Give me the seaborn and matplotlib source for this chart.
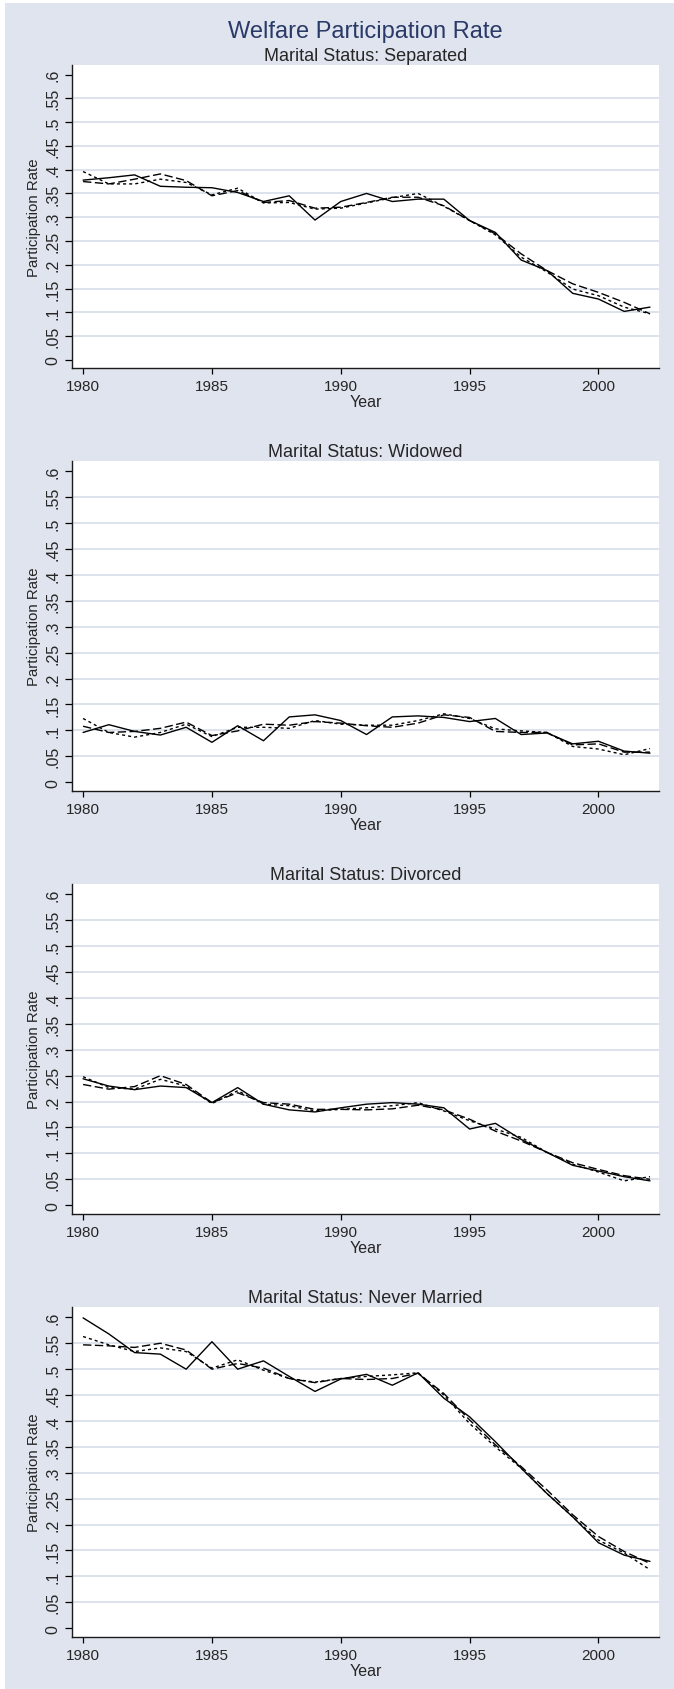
import matplotlib
matplotlib.use("Agg")
import matplotlib.pyplot as plt
import seaborn as sns
import pandas as pd
from matplotlib.patches import Rectangle

# ---- data -------------------------------------------------------------
YEARS = [1980, 1981, 1982, 1983, 1984, 1985, 1986, 1987, 1988, 1989, 1990,
         1991, 1992, 1993, 1994, 1995, 1996, 1997, 1998, 1999, 2000, 2001, 2002]

SEP_ACTUAL = [0.378, 0.383, 0.389, 0.365, 0.363, 0.362, 0.352, 0.333, 0.345, 0.294, 0.333,
              0.350, 0.333, 0.338, 0.338, 0.293, 0.268, 0.210, 0.188, 0.140, 0.128, 0.102, 0.111]
SEP_FIT_A = [0.375, 0.370, 0.380, 0.391, 0.377, 0.345, 0.356, 0.331, 0.335, 0.319, 0.321,
             0.331, 0.342, 0.342, 0.324, 0.293, 0.265, 0.223, 0.188, 0.160, 0.142, 0.121, 0.097]
SEP_FIT_B = [0.396, 0.370, 0.370, 0.380, 0.373, 0.347, 0.361, 0.330, 0.331, 0.317, 0.319,
             0.330, 0.341, 0.350, 0.323, 0.293, 0.263, 0.216, 0.185, 0.149, 0.135, 0.111, 0.097]

WID_ACTUAL = [0.096, 0.111, 0.098, 0.091, 0.106, 0.077, 0.109, 0.080, 0.126, 0.130, 0.119,
              0.092, 0.126, 0.128, 0.125, 0.117, 0.123, 0.092, 0.095, 0.074, 0.079, 0.060, 0.056]
WID_FIT_A = [0.108, 0.096, 0.098, 0.104, 0.116, 0.090, 0.099, 0.112, 0.110, 0.117, 0.114,
             0.109, 0.106, 0.114, 0.130, 0.125, 0.098, 0.096, 0.096, 0.072, 0.074, 0.058, 0.058]
WID_FIT_B = [0.123, 0.096, 0.087, 0.096, 0.112, 0.088, 0.106, 0.106, 0.104, 0.119, 0.112,
             0.110, 0.110, 0.119, 0.132, 0.123, 0.103, 0.099, 0.096, 0.069, 0.064, 0.053, 0.065]

DIV_ACTUAL = [0.244, 0.230, 0.223, 0.230, 0.227, 0.198, 0.227, 0.195, 0.184, 0.180, 0.188,
              0.195, 0.198, 0.195, 0.188, 0.147, 0.158, 0.127, 0.102, 0.077, 0.066, 0.055, 0.047]
DIV_FIT_A = [0.233, 0.224, 0.229, 0.250, 0.233, 0.198, 0.217, 0.198, 0.195, 0.185, 0.185,
             0.184, 0.186, 0.193, 0.184, 0.166, 0.143, 0.124, 0.102, 0.082, 0.069, 0.057, 0.050]
DIV_FIT_B = [0.248, 0.227, 0.224, 0.243, 0.230, 0.196, 0.221, 0.195, 0.192, 0.182, 0.185,
             0.188, 0.192, 0.198, 0.182, 0.163, 0.147, 0.131, 0.102, 0.079, 0.064, 0.047, 0.055]

NM_ACTUAL = [0.599, 0.568, 0.532, 0.529, 0.500, 0.553, 0.500, 0.516, 0.486, 0.457, 0.481,
             0.490, 0.469, 0.493, 0.444, 0.408, 0.360, 0.309, 0.260, 0.215, 0.165, 0.141, 0.129]
NM_FIT_A = [0.547, 0.545, 0.542, 0.550, 0.537, 0.500, 0.511, 0.502, 0.482, 0.474, 0.482,
            0.480, 0.482, 0.492, 0.453, 0.402, 0.354, 0.312, 0.267, 0.219, 0.177, 0.148, 0.125]
NM_FIT_B = [0.563, 0.547, 0.534, 0.541, 0.534, 0.502, 0.518, 0.498, 0.482, 0.475, 0.482,
            0.486, 0.489, 0.493, 0.450, 0.395, 0.350, 0.309, 0.260, 0.215, 0.170, 0.145, 0.113]

PANEL_TITLES = ["Marital Status: Separated", "Marital Status: Widowed",
                "Marital Status: Divorced", "Marital Status: Never Married"]
PANEL_SERIES = [(SEP_ACTUAL, SEP_FIT_A, SEP_FIT_B),
                (WID_ACTUAL, WID_FIT_A, WID_FIT_B),
                (DIV_ACTUAL, DIV_FIT_A, DIV_FIT_B),
                (NM_ACTUAL, NM_FIT_A, NM_FIT_B)]
SERIES_NAMES = ["Actual", "Model A", "Model B"]

Y_TICKS = [0, 0.05, 0.1, 0.15, 0.2, 0.25, 0.3, 0.35, 0.4, 0.45, 0.5, 0.55, 0.6]
Y_TICK_LABELS = ["0", ".05", ".1", ".15", ".2", ".25", ".3", ".35", ".4", ".45", ".5", ".55", ".6"]
X_TICKS = [1980, 1985, 1990, 1995, 2000]

# ---- style ------------------------------------------------------------
sns.set_style("white")
plt.rcParams["font.family"] = ["Liberation Sans", "DejaVu Sans"]

BG = "#E0E4EE"
GRID = "#D9E0EB"
TITLE_COLOR = "#2A3A68"

W, H = 674, 1690
fig = plt.figure(figsize=(W / 100, H / 100), dpi=100)
fig.patch.set_facecolor("white")
fig.add_artist(Rectangle((5 / W, 0), 1 - 5 / W, 1 - 4 / H, transform=fig.transFigure,
                         facecolor=BG, edgecolor="none", zorder=-10))

# axes boxes in pixels: (top, bottom)
LEFT_PX, RIGHT_PX = 72, 659
BOXES = [(66, 369), (462, 792), (885, 1215), (1308, 1638)]

dashes = {SERIES_NAMES[0]: "", SERIES_NAMES[1]: (6, 2.5), SERIES_NAMES[2]: (2.2, 2.2)}

for title, series, (top, bot) in zip(PANEL_TITLES, PANEL_SERIES, BOXES):
    ax = fig.add_axes([LEFT_PX / W, 1 - bot / H, (RIGHT_PX - LEFT_PX) / W, (bot - top) / H])
    ax.set_facecolor("white")
    df = pd.DataFrame({
        "Year": YEARS * 3,
        "rate": list(series[0]) + list(series[1]) + list(series[2]),
        "series": [n for n in SERIES_NAMES for _ in YEARS],
    })
    sns.lineplot(data=df, x="Year", y="rate", style="series", style_order=SERIES_NAMES[::-1],
                 dashes=dashes, color="black", linewidth=1.0, legend=False, ax=ax)

    ax.set_xlim(1979.57, 2002.35)
    ax.set_ylim(-0.017, 0.62)
    ax.set_xticks(X_TICKS)
    ax.set_xticklabels([str(x) for x in X_TICKS], fontsize=11)
    ax.set_yticks(Y_TICKS)
    ax.set_yticklabels(Y_TICK_LABELS, fontsize=11.5, rotation=90, va="center")
    ax.tick_params(axis="y", length=5, width=0.9, pad=3.5, color="black", left=True)
    ax.tick_params(axis="x", length=4.3, width=0.9, pad=3.6, color="black", bottom=True)

    ax.grid(axis="y", color=GRID, linewidth=1.3)
    ax.grid(axis="x", visible=False)
    gl = ax.yaxis.get_gridlines()
    gl[0].set_visible(False)
    gl[-1].set_visible(False)

    for side in ("top", "right"):
        ax.spines[side].set_visible(False)
    for side in ("left", "bottom"):
        ax.spines[side].set_color("#1a1a1a")
        ax.spines[side].set_linewidth(1.0)

    ax.set_xlabel("Year", fontsize=11.5, labelpad=0.5)
    ax.set_ylabel("Participation Rate", fontsize=10.8, va="center")
    ax.yaxis.set_label_coords(-0.0647, 0.5)
    ax.set_title(title, fontsize=13, pad=3.6)

fig.text(365 / W, 1 - 32 / H, "Welfare Participation Rate", ha="center", va="center",
         fontsize=17, color=TITLE_COLOR)

fig.savefig("out.png", dpi=100)
